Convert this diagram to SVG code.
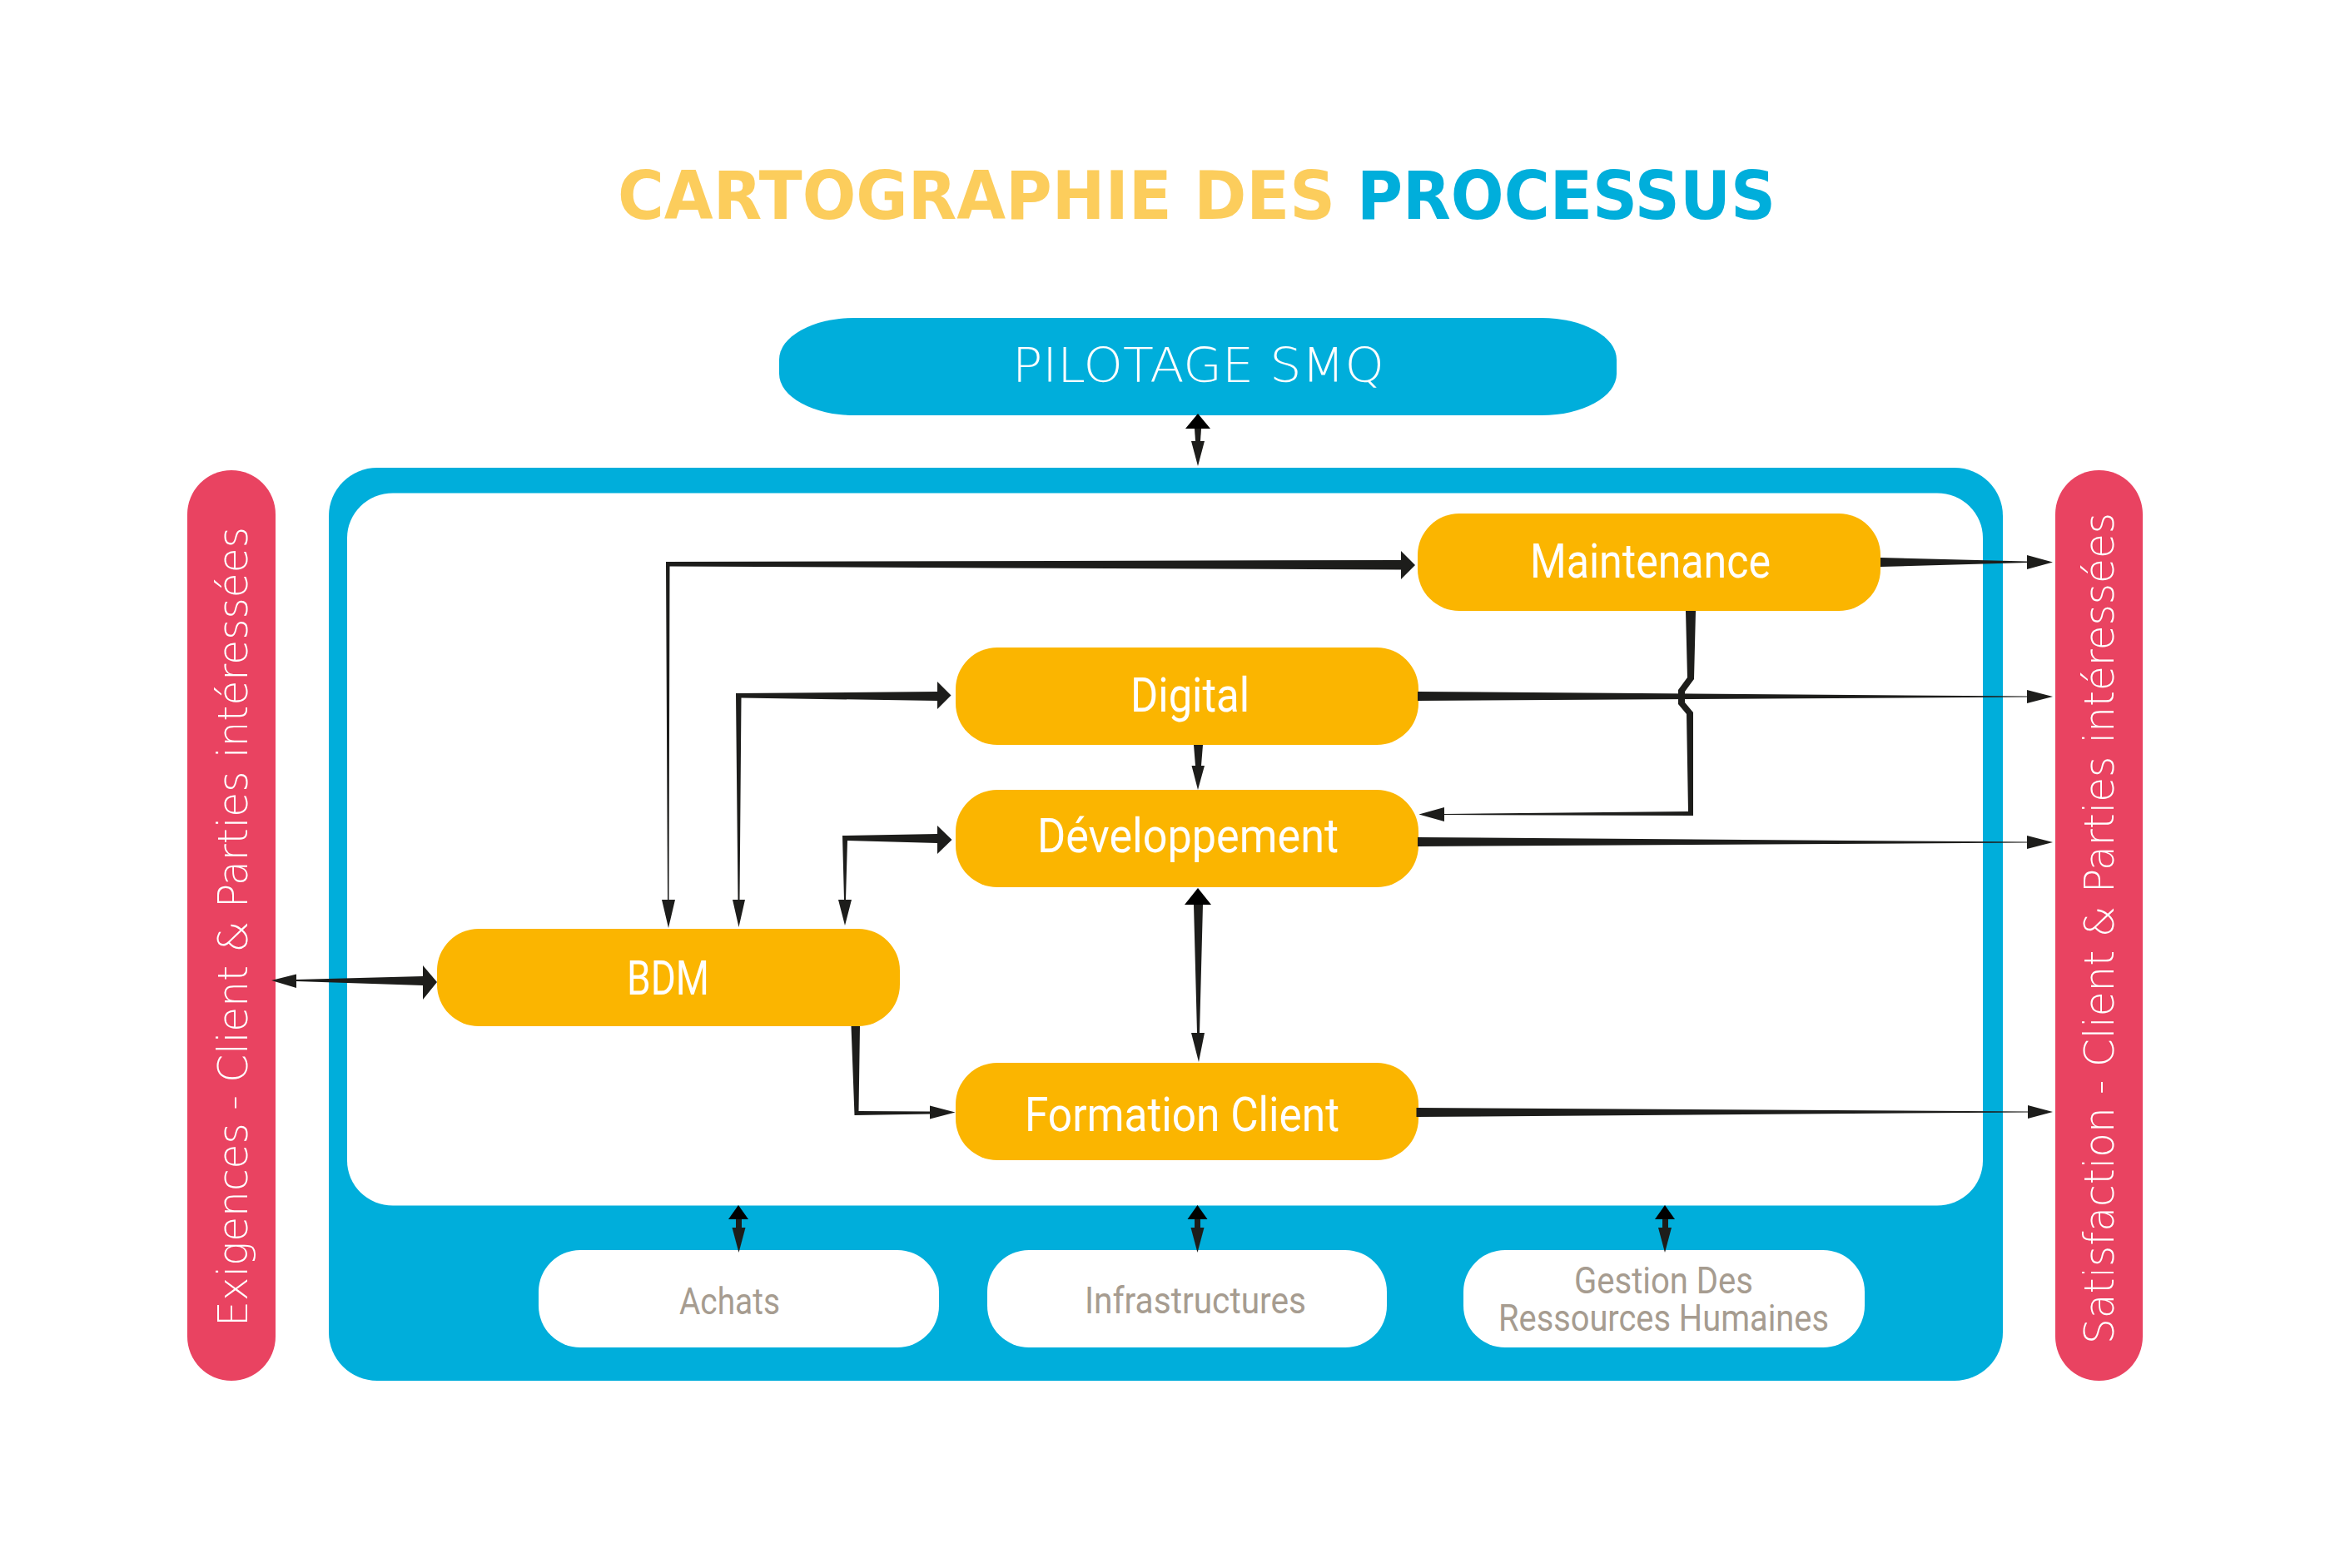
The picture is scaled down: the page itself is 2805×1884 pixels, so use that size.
<svg xmlns="http://www.w3.org/2000/svg" width="2805" height="1884" viewBox="0 0 2805 1884">
<style>
.blue{fill:#00AEDB}.red{fill:#E94361}.or{fill:#FBB500}.wh{fill:#fff}
.c{fill:#1D1D1B}.k{fill:#000}
.t{font-family:"Roboto","Liberation Sans",sans-serif;font-size:58px;fill:#fff;font-weight:400}
.s{font-family:"Roboto","Liberation Sans",sans-serif;font-size:44px;fill:#A69C90;font-weight:400}
.side{font-family:"DejaVu Sans","Liberation Sans",sans-serif;font-size:50px;fill:#fff;font-weight:200}
.h{font-family:"DejaVu Sans","Liberation Sans",sans-serif;font-size:80px;font-weight:700}
</style>
<rect width="2805" height="1884" fill="#fff"/>
<g id="title"><text class="h" x="742" y="263" textLength="862" lengthAdjust="spacingAndGlyphs" fill="#FCCD5C">CARTOGRAPHIE DES</text><text class="h" x="1630" y="263" textLength="503" lengthAdjust="spacingAndGlyphs" fill="#00AEDB">PROCESSUS</text></g>
<g id="pilotage"><rect class="blue" x="936" y="382" width="1006" height="117" rx="90" ry="50"/><text x="1216" y="459" font-family="DejaVu Sans, sans-serif" font-size="57" font-weight="200" fill="#fff" textLength="447" lengthAdjust="spacingAndGlyphs">PILOTAGE SMQ</text></g>
<g id="exigences"><rect class="red" x="225" y="565" width="106" height="1094" rx="53" ry="53"/><text class="side" transform="translate(297,1594) rotate(-90)" textLength="961" lengthAdjust="spacingAndGlyphs">Exigences - Client &amp; Parties intéressées</text></g>
<g id="satisfaction"><rect class="red" x="2469" y="565" width="105" height="1094" rx="52" ry="53"/><text class="side" transform="translate(2539,1615) rotate(-90)" textLength="999" lengthAdjust="spacingAndGlyphs">Satisfaction - Client &amp; Parties intéressées</text></g>
<g id="cadre"><rect class="blue" x="395" y="562" width="2011" height="1097" rx="58" ry="58"/><rect class="wh" x="417" y="592.500" width="1965" height="856" rx="55" ry="54"/></g>
<g id="achats"><rect class="wh" x="647" y="1502" width="481" height="117" rx="50" ry="50"/><text class="s" x="816" y="1579" textLength="121" lengthAdjust="spacingAndGlyphs">Achats</text></g>
<g id="infrastructures"><rect class="wh" x="1186" y="1502" width="480" height="117" rx="50" ry="50"/><text class="s" x="1303" y="1578" textLength="266" lengthAdjust="spacingAndGlyphs">Infrastructures</text></g>
<g id="grh"><rect class="wh" x="1758" y="1502" width="482" height="117" rx="50" ry="50"/><text class="s" x="1891" y="1554" textLength="215" lengthAdjust="spacingAndGlyphs">Gestion Des</text><text class="s" x="1800" y="1599" textLength="397" lengthAdjust="spacingAndGlyphs">Ressources Humaines</text></g>
<g id="maintenance"><rect class="or" x="1703" y="617" width="556" height="117" rx="50" ry="50"/><text class="t" x="1838" y="694" textLength="289" lengthAdjust="spacingAndGlyphs">Maintenance</text></g>
<g id="digital"><rect class="or" x="1148" y="778" width="556" height="117" rx="50" ry="50"/><text class="t" x="1358" y="855" textLength="143" lengthAdjust="spacingAndGlyphs">Digital</text></g>
<g id="developpement"><rect class="or" x="1148" y="949" width="556" height="117" rx="50" ry="50"/><text class="t" x="1246" y="1024" textLength="362" lengthAdjust="spacingAndGlyphs">Développement</text></g>
<g id="bdm"><rect class="or" x="525" y="1116" width="556" height="117" rx="50" ry="50"/><text class="t" x="753" y="1195" textLength="99" lengthAdjust="spacingAndGlyphs">BDM</text></g>
<g id="formation"><rect class="or" x="1148" y="1277" width="556" height="117" rx="50" ry="50"/><text class="t" x="1231" y="1359" textLength="378" lengthAdjust="spacingAndGlyphs">Formation Client</text></g>
<g id="connectors" transform="translate(0,-1)">
<path class="k" d="M1439 498L1454 516H1424Z"/><path class="c" d="M1435 516H1443L1442 531H1436Z"/><path class="c" d="M1431 531H1447L1439 561Z"/>
<path class="k" d="M887 1449L899 1466H875Z"/><path class="c" d="M884 1466H891L891 1476H884Z"/><path class="c" d="M879.500 1476H895.500L887.500 1506Z"/>
<path class="k" d="M1438.500 1449L1450.500 1466H1426.500Z"/><path class="c" d="M1435 1466H1442L1442 1476H1435Z"/><path class="c" d="M1430.500 1476H1446.500L1438.500 1506Z"/>
<path class="k" d="M2000 1449L2012 1466H1988Z"/><path class="c" d="M1997 1466H2004L2004 1476H1997Z"/><path class="c" d="M1992 1476H2008L2000 1506Z"/>
<path class="c" d="M1434 896H1445L1443 921H1447L1439 950L1431.500 921H1436Z"/>
<path class="k" d="M1439 1068L1455 1088H1423Z"/><path class="c" d="M1434 1088H1445L1441 1242H1447L1440 1277L1431 1242H1438Z"/>
<path class="c" d="M800 676L1683 674V663L1700 680L1683 697V685.500L1200 683.500L804.500 681.500L803.500 1082H811L803 1116L795 1082H802Z"/>
<path class="c" d="M884 834L1126 832V820L1142.500 836.500L1126 853V843L890.500 839.500L888.500 1082H895L887.500 1115L880 1082H886.500Z"/>
<path class="c" d="M1012 1005L1126 1003V993L1143.500 1010L1126 1027V1014L1018 1011L1016 1082H1023L1015 1113L1007 1082H1014Z"/>
<path class="c" d="M326 1179L356 1171.500V1178L508 1174V1161L525 1181L508 1202V1185L356 1180V1188Z"/>
<path class="c" d="M1022.500 1234H1033L1031.500 1336L1117 1336.500V1329.500L1147.500 1337.500L1117 1345.500V1339.500L1026.500 1341Z"/>
<path class="c" d="M2259 671L2435 675.500V668L2466 676.500L2435 685V677L2259 682Z"/>
<path class="c" d="M1703 832L2435 837.500V830L2466 838L2435 846V838.500L1703 843Z"/>
<path class="c" d="M1703 1007L2435 1012.500V1005L2466 1013L2435 1021V1013.500L1703 1018Z"/>
<path class="c" d="M1701.500 1332L2436 1336.500V1329L2466 1337L2436 1345V1337.500L1701.500 1343Z"/>
<path class="c" d="M2025 735H2037L2035 817L2024 832V845L2034 857V981L1735 980V988L1704.500 979.500L1735 971V979L2028 976L2026 859L2016 847V830L2027 815Z"/>
</g>
</svg>
